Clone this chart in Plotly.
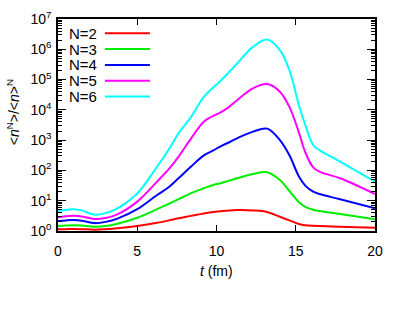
import plotly.graph_objects as go

# time grid (fm)
t = [0, 0.5, 1, 1.5, 2.3, 3, 3.75, 5, 6.25, 7, 7.6, 8.4, 9.2, 9.8, 10.2, 10.8,
     11.3, 12.3, 13.2, 14, 14.6, 15.2, 15.6, 16.1, 16.5, 17.8, 20]

n2 = [1.14, 1.15, 1.16, 1.15, 1.11, 1.15, 1.23, 1.46, 1.86, 2.24, 2.63, 3.16, 3.80,
      4.27, 4.47, 4.79, 4.90, 4.79, 4.27, 2.95, 2.24, 1.70, 1.55, 1.48, 1.45, 1.38, 1.29]
n3 = [1.46, 1.51, 1.55, 1.51, 1.38, 1.45, 1.74, 2.75, 5.25, 7.94, 11.2, 17.8, 25.7,
      33.1, 37.2, 45.7, 55.0, 75.9, 87.1, 47.9, 20.9, 8.91, 6.31, 5.01, 4.57, 3.63, 2.45]
n4 = [2.14, 2.24, 2.29, 2.19, 1.82, 2.0, 2.57, 5.25, 15.5, 28.2, 55.0, 135, 316,
      457, 603, 851, 1150, 1910, 2400, 1000, 316, 63.1, 31.6, 20.0, 16.6, 11.2, 5.62]
n5 = [2.82, 3.09, 3.16, 3.02, 2.51, 2.69, 3.55, 9.33, 42.7, 112, 282, 1150, 4070,
      6310, 7940, 12600, 20900, 51300, 70800, 39800, 12600, 1780, 398, 126, 91.2, 55.0, 16.6]
n6 = [4.57, 5.01, 5.25, 4.79, 3.47, 3.89, 5.62, 17.4, 132, 501, 1660, 5890, 26900,
      55000, 85100, 178000, 339000, 1.2e6, 2.09e6, 933000, 204000, 14100, 3160, 692,
      468, 195, 42.7]

names = ["N=2", "N=3", "N=4", "N=5", "N=6"]
series = [n2, n3, n4, n5, n6]
colors = ["#ff0000", "#00ee00", "#0000ff", "#ff00ff", "#00ffff"]

xticks = [0, 5, 10, 15, 20]
ytick_exp = [0, 1, 2, 3, 4, 5, 6, 7]

FONT = "Liberation Sans, Arial, sans-serif"

fig = go.Figure()
for name, ys, c in zip(names, series, colors):
    fig.add_trace(go.Scatter(x=t, y=ys, mode="lines", name=name,
                             line=dict(color=c, width=2, shape="spline", smoothing=1.0),
                             showlegend=False))

# legend (text left, sample line right)
leg_y0 = 0.9325
leg_dy = 0.0745
for i, (name, c) in enumerate(zip(names, colors)):
    yy = leg_y0 - i * leg_dy
    fig.add_annotation(x=0.028, y=yy, xref="paper", yref="paper", text=name,
                       showarrow=False, xanchor="left", yanchor="middle",
                       font=dict(size=15, color="black", family=FONT))
    fig.add_shape(type="line", xref="paper", yref="paper", x0=0.148, x1=0.290,
                  y0=yy, y1=yy, line=dict(color=c, width=2))

minor_vals = [m * 10 ** e for e in range(0, 7) for m in range(2, 10)]

fig.update_xaxes(range=[0, 20], tickvals=xticks, ticks="inside", ticklen=6,
                 tickwidth=1, tickcolor="black", mirror="allticks", showline=True,
                 linecolor="black", linewidth=1.5, showgrid=False, zeroline=False,
                 tickfont=dict(size=14, color="black", family=FONT),
                 ticklabelstandoff=6, automargin=False)
fig.update_yaxes(type="log", range=[0, 7],
                 tickvals=[10 ** e for e in ytick_exp],
                 ticktext=["10<sup>%d</sup>" % e for e in ytick_exp],
                 ticks="inside", ticklen=8, tickwidth=1, tickcolor="black",
                 mirror="allticks", showline=True, linecolor="black", linewidth=1.5,
                 showgrid=False, zeroline=False,
                 tickfont=dict(size=14, color="black", family=FONT),
                 ticklabelstandoff=2, automargin=False,
                 minor=dict(tickvals=minor_vals, ticks="inside", ticklen=4,
                            tickcolor="black", tickwidth=1, showgrid=False))

fig.add_annotation(x=0.5, y=-0.19, xref="paper", yref="paper",
                   text="<i>t</i> (fm)", showarrow=False, xanchor="center",
                   yanchor="middle", font=dict(size=14, color="black", family=FONT))
fig.add_annotation(x=-0.142, y=0.56, xref="paper", yref="paper",
                   text="&lt;<i>n</i><sup>N</sup>&gt;/&lt;<i>n</i>&gt;<sup>N</sup>",
                   showarrow=False, textangle=-90, xanchor="center", yanchor="middle",
                   font=dict(size=14, color="black", family=FONT))

fig.update_layout(width=403, height=316, margin=dict(l=58, r=28, t=19, b=85),
                  paper_bgcolor="white", plot_bgcolor="white",
                  font=dict(family=FONT, color="black"))

# remove the default 8px page margin so the figure fills the window exactly
fig.write_html("out.html", config={"displayModeBar": False},
               post_script="document.body.style.margin='0';")
